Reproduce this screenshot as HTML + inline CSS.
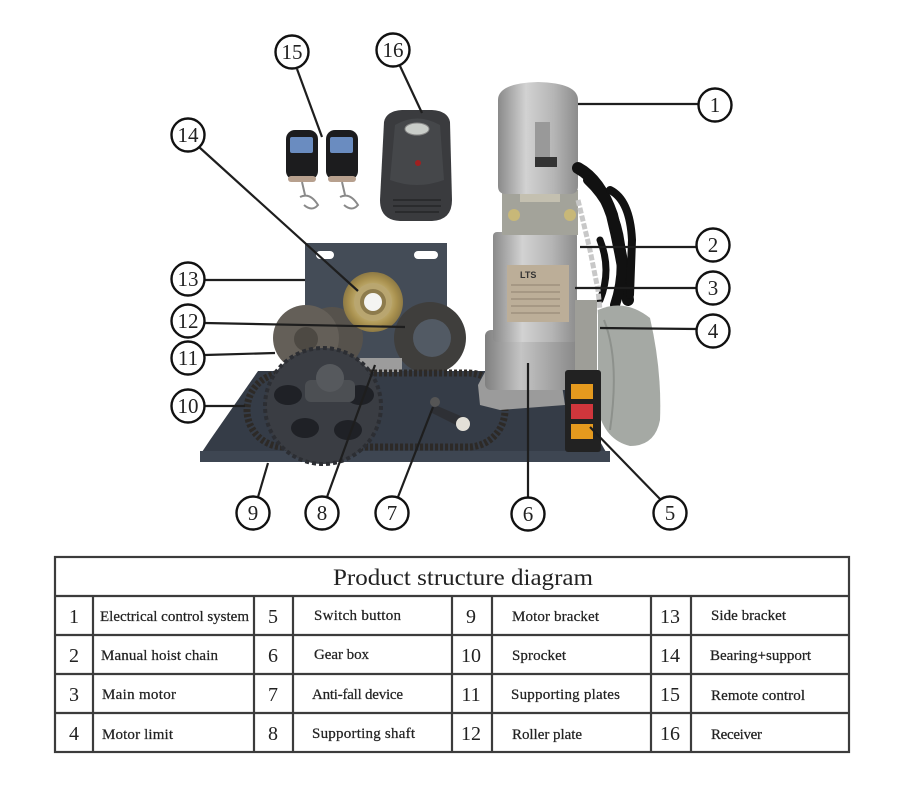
<!DOCTYPE html>
<html><head><meta charset="utf-8"><style>
html,body{margin:0;padding:0;background:#fff;}
svg{display:block;}
.t{font-family:"Liberation Serif",serif;fill:#222;}
</style></head><body>
<svg width="901" height="800" viewBox="0 0 901 800" xmlns="http://www.w3.org/2000/svg">
<defs>
<linearGradient id="met" x1="0" x2="1" y1="0" y2="0">
<stop offset="0" stop-color="#8a8a8a"/><stop offset="0.35" stop-color="#d2d2d2"/><stop offset="0.7" stop-color="#b5b5b5"/><stop offset="1" stop-color="#8c8c8c"/>
</linearGradient>
<linearGradient id="met2" x1="0" x2="1" y1="0" y2="0">
<stop offset="0" stop-color="#7f7f7f"/><stop offset="0.4" stop-color="#c4c4c4"/><stop offset="1" stop-color="#8a8a8a"/>
</linearGradient>
<radialGradient id="brass" cx="0.5" cy="0.5" r="0.5">
<stop offset="0.3" stop-color="#d8c88e"/><stop offset="0.8" stop-color="#a8904e"/><stop offset="1" stop-color="#8e7a45"/>
</radialGradient>
</defs>
<rect width="901" height="800" fill="#fff"/>

<!-- Receiver -->
<path d="M384 122 Q386 111 402 110 L432 110 Q448 111 450 122 L452 200 Q452 220 432 221 L400 221 Q380 220 380 200 Z" fill="#3a3b3e"/>
<path d="M395 125 Q417 112 440 125 L444 180 Q417 190 390 180 Z" fill="#45474a"/>
<ellipse cx="417" cy="129" rx="12" ry="6" fill="#c9cdc9" stroke="#888" stroke-width="1"/>
<circle cx="418" cy="163" r="3" fill="#a02020"/>
<g stroke="#2a2b2d" stroke-width="2"><line x1="393" y1="200" x2="441" y2="200"/><line x1="393" y1="206" x2="441" y2="206"/><line x1="395" y1="212" x2="439" y2="212"/></g>

<!-- Remotes -->
<rect x="286" y="130" width="32" height="50" rx="9" fill="#1c1c1e"/>
<rect x="326" y="130" width="32" height="50" rx="9" fill="#1c1c1e"/>
<rect x="290" y="137" width="23" height="16" rx="2" fill="#6a8cc0"/>
<rect x="330" y="137" width="23" height="16" rx="2" fill="#6a8cc0"/>
<rect x="288" y="176" width="28" height="6" rx="3" fill="#b7a08e"/>
<rect x="328" y="176" width="28" height="6" rx="3" fill="#b7a08e"/>
<g stroke="#8a8a8a" stroke-width="2" fill="none">
<path d="M302 182 L305 195 M300 197 Q310 192 318 205 Q312 212 304 205"/>
<path d="M342 182 L345 195 M340 197 Q350 192 358 205 Q352 212 344 205"/>
</g>

<!-- Side bracket -->
<rect x="305" y="243" width="142" height="128" fill="#444c57"/>
<rect x="316" y="251" width="18" height="8" rx="4" fill="#fff"/>
<rect x="414" y="251" width="24" height="8" rx="4" fill="#fff"/>

<!-- discs -->
<circle cx="332" cy="338" r="31" fill="#56524c"/>
<circle cx="306" cy="338" r="33" fill="#645f58"/>
<circle cx="306" cy="339" r="12" fill="#4d4943"/>
<circle cx="430" cy="338" r="36" fill="#3f3e3c"/>
<circle cx="432" cy="338" r="19" fill="#525a64"/>
<!-- bearing -->
<circle cx="373" cy="302" r="30" fill="url(#brass)"/>
<circle cx="373" cy="302" r="19" fill="#b9a670"/>
<circle cx="373" cy="302" r="13" fill="#8d7b4c"/>
<circle cx="373" cy="302" r="9" fill="#f4f4f2"/>

<!-- Base plate -->
<polygon points="258,371 560,371 606,452 202,452 210,440" fill="#353c47"/>
<rect x="200" y="451" width="410" height="11" fill="#3e4652"/>
<rect x="310" y="358" width="92" height="14" fill="#9c9c9c"/>

<!-- chain loop -->
<rect x="247" y="373" width="258" height="74" rx="37" fill="none" stroke="#2d2a27" stroke-width="7" stroke-dasharray="3 2"/>
<!-- sprocket -->
<circle cx="323" cy="406" r="58" fill="#3a3d43" stroke="#2c2e33" stroke-width="4" stroke-dasharray="4 3"/>
<ellipse cx="288" cy="395" rx="14" ry="10" fill="#1f2126"/>
<ellipse cx="360" cy="395" rx="14" ry="10" fill="#1f2126"/>
<ellipse cx="305" cy="428" rx="14" ry="10" fill="#1f2126"/>
<ellipse cx="348" cy="430" rx="14" ry="10" fill="#1f2126"/>
<rect x="305" y="380" width="50" height="22" rx="6" fill="#4c4f53"/>
<circle cx="330" cy="378" r="14" fill="#56595d"/>
<!-- anti-fall arm -->
<path d="M435 405 L470 420 L462 428 L430 412 Z" fill="#2e3035"/>
<circle cx="463" cy="424" r="7" fill="#e3e0d8"/>
<circle cx="435" cy="402" r="5" fill="#555"/>

<!-- Motor foot -->
<path d="M478 385 L485 372 L560 372 L565 405 L500 410 L480 405 Z" fill="#9b9b9b"/>
<rect x="485" y="330" width="90" height="60" rx="6" fill="url(#met2)"/>
<!-- Motor body -->
<rect x="493" y="232" width="84" height="110" rx="4" fill="url(#met)"/>
<rect x="507" y="265" width="62" height="57" fill="#bcae98"/>
<text x="520" y="278" font-family="Liberation Sans,sans-serif" font-size="9" font-weight="bold" fill="#333">LTS</text>
<g stroke="#8f8270" stroke-width="1"><line x1="511" y1="285" x2="560" y2="285"/><line x1="511" y1="292" x2="560" y2="292"/><line x1="511" y1="299" x2="560" y2="299"/><line x1="511" y1="306" x2="560" y2="306"/><line x1="511" y1="313" x2="560" y2="313"/></g>
<!-- clamp area -->
<rect x="502" y="190" width="76" height="45" fill="#a3a39a"/>
<rect x="520" y="186" width="40" height="16" fill="#c4c0b0"/>
<circle cx="514" cy="215" r="6" fill="#c8b878"/>
<circle cx="570" cy="215" r="6" fill="#c8b878"/>
<!-- Motor top cylinder -->
<path d="M498 100 Q498 83 538 82 Q578 83 578 100 L578 186 Q578 194 570 194 L506 194 Q498 194 498 186 Z" fill="url(#met)"/>
<rect x="535" y="122" width="15" height="45" fill="#999"/>
<rect x="535" y="157" width="22" height="10" fill="#333"/>

<!-- cables -->
<g fill="none" stroke="#111" stroke-linecap="round">
<path d="M578 168 Q600 180 612 215 Q622 255 628 300" stroke-width="12"/>
<path d="M588 180 Q615 205 620 245 Q625 275 615 305" stroke-width="10"/>
<path d="M610 190 Q630 200 632 240 L630 295" stroke-width="8"/>
<path d="M600 240 Q612 270 600 300" stroke-width="7"/>
</g>
<!-- hoist chain -->
<path d="M578 200 L590 250 L598 290 L602 330" fill="none" stroke="#c8c8c8" stroke-width="5" stroke-dasharray="6 2"/>
<rect x="575" y="300" width="22" height="70" fill="#9e9e98"/>
<!-- bag -->
<path d="M598 310 Q625 298 650 318 Q662 370 660 420 Q655 446 630 446 Q605 440 598 410 Z" fill="#a5a9a4"/>
<path d="M604 320 Q620 360 610 430" fill="none" stroke="#8d918c" stroke-width="2"/>
<!-- switch box -->
<rect x="565" y="370" width="36" height="82" rx="3" fill="#222"/>
<rect x="571" y="384" width="22" height="15" fill="#e59a1e"/>
<rect x="571" y="404" width="22" height="15" fill="#d0363c"/>
<rect x="571" y="424" width="22" height="15" fill="#e59a1e"/>

<!-- Callouts -->
<g stroke="#1e1e1e" stroke-width="2.2" fill="none">
<line x1="578" y1="104" x2="698" y2="104"/>
<line x1="580" y1="247" x2="697" y2="247"/>
<line x1="575" y1="288" x2="697" y2="288"/>
<line x1="600" y1="328" x2="697" y2="329"/>
<line x1="660" y1="499" x2="590" y2="427"/>
<line x1="528" y1="497" x2="528" y2="363"/>
<line x1="398" y1="497" x2="433" y2="407"/>
<line x1="327" y1="497" x2="375" y2="365"/>
<line x1="258" y1="497" x2="268" y2="463"/>
<line x1="205" y1="406" x2="245" y2="406"/>
<line x1="205" y1="355" x2="275" y2="353"/>
<line x1="205" y1="323" x2="405" y2="327"/>
<line x1="205" y1="280" x2="305" y2="280"/>
<line x1="199" y1="147" x2="358" y2="291"/>
<line x1="297" y1="69" x2="322" y2="137"/>
<line x1="400" y1="66" x2="422" y2="113"/>
</g>
<g stroke="#111" stroke-width="2.4" fill="#fff">
<circle cx="715" cy="105" r="16.5"/>
<circle cx="713" cy="245" r="16.5"/>
<circle cx="713" cy="288" r="16.5"/>
<circle cx="713" cy="331" r="16.5"/>
<circle cx="670" cy="513" r="16.5"/>
<circle cx="528" cy="514" r="16.5"/>
<circle cx="392" cy="513" r="16.5"/>
<circle cx="322" cy="513" r="16.5"/>
<circle cx="253" cy="513" r="16.5"/>
<circle cx="188" cy="406" r="16.5"/>
<circle cx="188" cy="358" r="16.5"/>
<circle cx="188" cy="321" r="16.5"/>
<circle cx="188" cy="279" r="16.5"/>
<circle cx="188" cy="135" r="16.5"/>
<circle cx="292" cy="52" r="16.5"/>
<circle cx="393" cy="50" r="16.5"/>
</g>
<g class="t" font-size="21" text-anchor="middle">
<text x="715" y="112">1</text>
<text x="713" y="252">2</text>
<text x="713" y="295">3</text>
<text x="713" y="338">4</text>
<text x="670" y="520">5</text>
<text x="528" y="521">6</text>
<text x="392" y="520">7</text>
<text x="322" y="520">8</text>
<text x="253" y="520">9</text>
<text x="188" y="413">10</text>
<text x="188" y="365">11</text>
<text x="188" y="328">12</text>
<text x="188" y="286">13</text>
<text x="188" y="142">14</text>
<text x="292" y="59">15</text>
<text x="393" y="57">16</text>
</g>

<!-- Table -->
<g stroke="#3c3c3c" stroke-width="2.2" fill="none">
<rect x="55" y="557" width="794" height="195"/>
<line x1="55" y1="596" x2="849" y2="596"/>
<line x1="55" y1="635" x2="849" y2="635"/>
<line x1="55" y1="674" x2="849" y2="674"/>
<line x1="55" y1="713" x2="849" y2="713"/>
<line x1="93" y1="596" x2="93" y2="752"/>
<line x1="254" y1="596" x2="254" y2="752"/>
<line x1="293" y1="596" x2="293" y2="752"/>
<line x1="452" y1="596" x2="452" y2="752"/>
<line x1="492" y1="596" x2="492" y2="752"/>
<line x1="651" y1="596" x2="651" y2="752"/>
<line x1="691" y1="596" x2="691" y2="752"/>
</g>
<text class="t" x="333" y="585" font-size="23" textLength="260" lengthAdjust="spacingAndGlyphs">Product structure diagram</text>

<g class="t" font-size="20" text-anchor="middle">
<text x="74" y="623">1</text><text x="74" y="662">2</text><text x="74" y="701">3</text><text x="74" y="740">4</text>
<text x="273" y="623">5</text><text x="273" y="662">6</text><text x="273" y="701">7</text><text x="273" y="740">8</text>
<text x="471" y="623">9</text><text x="471" y="662">10</text><text x="471" y="701">11</text><text x="471" y="740">12</text>
<text x="670" y="623">13</text><text x="670" y="662">14</text><text x="670" y="701">15</text><text x="670" y="740">16</text>
</g>
<g class="t" font-size="15" lengthAdjust="spacingAndGlyphs" stroke="#222" stroke-width="0.25">
<text x="100" y="621" textLength="149">Electrical control system</text>
<text x="101" y="660" textLength="117">Manual hoist chain</text>
<text x="102" y="699" textLength="74">Main motor</text>
<text x="102" y="739" textLength="71">Motor limit</text>
<text x="314" y="620" textLength="87">Switch button</text>
<text x="314" y="659" textLength="55">Gear box</text>
<text x="312" y="699" textLength="91">Anti-fall device</text>
<text x="312" y="738" textLength="103">Supporting shaft</text>
<text x="512" y="621" textLength="87">Motor bracket</text>
<text x="512" y="660" textLength="54">Sprocket</text>
<text x="511" y="699" textLength="109">Supporting plates</text>
<text x="512" y="739" textLength="70">Roller plate</text>
<text x="711" y="620" textLength="75">Side bracket</text>
<text x="710" y="660" textLength="101">Bearing+support</text>
<text x="711" y="700" textLength="94">Remote control</text>
<text x="711" y="739" textLength="51">Receiver</text>
</g>
</svg>
</body></html>
